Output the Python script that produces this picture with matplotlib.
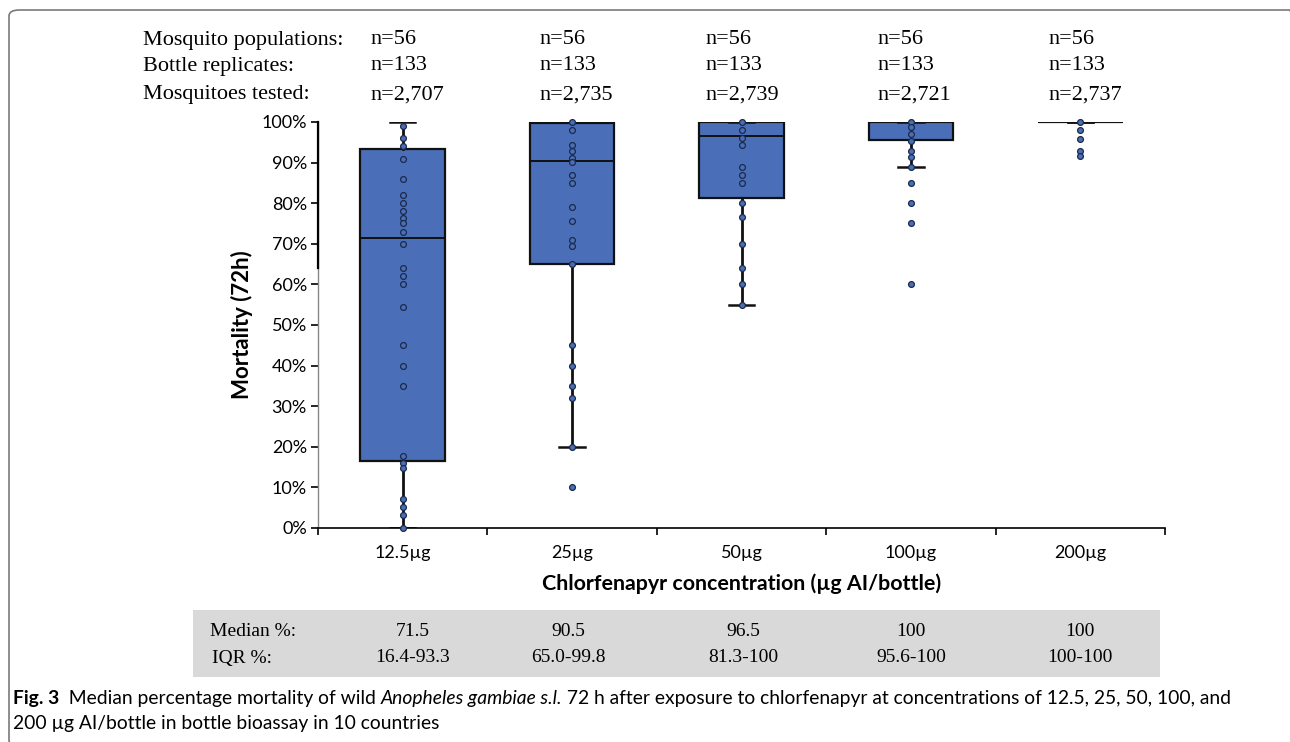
import matplotlib
matplotlib.use("Agg")
import matplotlib.pyplot as plt
import matplotlib.transforms as mtransforms
from matplotlib.patches import FancyBboxPatch, Rectangle

# ---------------- data ----------------
categories = ["12.5µg", "25µg", "50µg", "100µg", "200µg"]
medians = [71.5, 90.5, 96.5, 100, 100]
q1 = [16.4, 65.0, 81.3, 95.6, 100]
q3 = [93.3, 99.8, 100, 100, 100]
whis_lo = [0, 20, 55, 89, 100]
whis_hi = [100, 100, 100, 100, 100]

pts_125 = [99.1, 96.1, 94.1, 91.0, 86.0, 81.9, 80.0, 78.1, 76.4, 75.0, 73.0, 70.0,
           64.0, 62.1, 60.0, 54.5, 45.0, 40.0, 35.0, 17.7, 16.0, 14.7, 7.1, 5.1, 3.1, 0.0]
pts_25 = [100, 98.0, 94.4, 92.9, 91.2, 90.1, 86.9, 84.9, 79.0, 75.6, 71.0, 69.5,
          65.0, 45.0, 40.0, 35.0, 32.0, 20.0, 10.0]
pts_50 = [100, 98.0, 96.0, 94.4, 89.0, 87.0, 85.0, 80.0, 76.7, 70.0, 64.0, 60.1, 55.0]
pts_100 = [100, 98.7, 97.0, 95.4, 92.9, 91.3, 88.9, 85.0, 80.0, 75.0, 60.0]
pts_200 = [100, 98.0, 95.9, 92.9, 91.6]
points = [pts_125, pts_25, pts_50, pts_100, pts_200]

row_labels = ["Mosquito populations:", "Bottle replicates:", "Mosquitoes tested:"]
populations = ["n=56", "n=56", "n=56", "n=56", "n=56"]
replicates = ["n=133", "n=133", "n=133", "n=133", "n=133"]
tested = ["n=2,707", "n=2,735", "n=2,739", "n=2,721", "n=2,737"]

median_labels = ["71.5", "90.5", "96.5", "100", "100"]
iqr_labels = ["16.4-93.3", "65.0-99.8", "81.3-100", "95.6-100", "100-100"]

y_ticks = [0, 10, 20, 30, 40, 50, 60, 70, 80, 90, 100]

# ---------------- styling ----------------
W, H = 1290, 742
BOX_BLUE = "#4a6fb8"
DOT_EDGE = "#1c2a4a"
SANS = ["Lato", "DejaVu Sans"]
SERIF = ["Liberation Serif", "DejaVu Serif"]

fig = plt.figure(figsize=(W / 100, H / 100), dpi=100)


def fx(px):
    return px / W


def fy(py):
    return 1 - py / H


# outer rounded border
border = FancyBboxPatch((fx(9), fy(746)), fx(1300) - fx(9), fy(10) - fy(746),
                        boxstyle="round,pad=0,rounding_size=0.008",
                        transform=fig.transFigure, fill=False,
                        edgecolor="#7a7a7a", linewidth=1.2, clip_on=False, zorder=-2)
fig.patches.append(border)

ax = fig.add_axes([fx(318), fy(528), fx(1165) - fx(318), fy(122) - fy(528)])

positions = [i + 0.5 for i in range(len(categories))]
stats = []
for i in range(len(categories)):
    stats.append(dict(med=medians[i], q1=q1[i], q3=q3[i],
                      whislo=whis_lo[i], whishi=whis_hi[i], fliers=[]))

ax.bxp(stats, positions=positions, widths=0.5, patch_artist=True,
       showfliers=False, capwidths=0.15,
       boxprops=dict(facecolor=BOX_BLUE, edgecolor="#111111", linewidth=1.6),
       medianprops=dict(color="#111111", linewidth=1.4),
       whiskerprops=dict(color="#111111", linewidth=2.0),
       capprops=dict(color="#111111", linewidth=1.8),
       zorder=2)

for pos, vals in zip(positions, points):
    ax.plot([pos] * len(vals), vals, linestyle="none", marker="o",
            markersize=4.2, markerfacecolor=BOX_BLUE, markeredgecolor=DOT_EDGE,
            markeredgewidth=0.9, zorder=4, clip_on=False)

ax.set_xlim(0, 5)
ax.set_ylim(0, 100)
ax.set_yticks(y_ticks)
ax.set_yticklabels([f"{v}%" for v in y_ticks], fontsize=13, family=SANS)
ax.set_xticks(positions)
ax.set_xticklabels(categories, fontsize=13, family=SANS)
ax.set_xticks(range(0, 6), minor=True)
ax.tick_params(axis="x", which="major", length=0, pad=12)
ax.tick_params(axis="x", which="minor", length=5, width=1.2, direction="out")
ax.tick_params(axis="y", length=5, width=1.2, direction="out", pad=3)

for s in ["top", "right"]:
    ax.spines[s].set_visible(False)
ax.spines["bottom"].set_linewidth(1.2)
ax.spines["left"].set_linewidth(1.0)
ax.spines["left"].set_color("#888888")
ax.plot([0, 0], [64, 100], color="black", linewidth=1.6, clip_on=False, zorder=3)

ax.set_ylabel("Mortality (72h)", fontsize=16, fontweight="bold", family=SANS, labelpad=6)
ax.set_xlabel("Chlorfenapyr concentration (µg AI/bottle)", fontsize=15.4,
              fontweight="bold", family=SANS, labelpad=9)

# ---------------- header rows ----------------
HDR = 16
header_y = [40, 66, 95]
header_cols = [0.31, 1.31, 2.29, 3.30, 4.31]
trans_hdr = mtransforms.blended_transform_factory(ax.transData, fig.transFigure)
for r, (lab, vals) in enumerate(zip(row_labels, [populations, replicates, tested])):
    fig.text(fx(143), fy(header_y[r]), lab, fontsize=HDR, family=SERIF,
             va="center", ha="left")
    for c, v in enumerate(vals):
        fig.text(header_cols[c], fy(header_y[r]), v, transform=trans_hdr,
                 fontsize=HDR, family=SERIF, va="center", ha="left")

# ---------------- bottom table ----------------
TBL = 14
tbl = Rectangle((fx(193), fy(677)), fx(1160) - fx(193), fy(610) - fy(677),
                transform=fig.transFigure, facecolor="#d9d9d9", edgecolor="none",
                zorder=-1)
fig.patches.append(tbl)
table_cols = [0.56, 1.48, 2.51, 3.50, 4.50]
fig.text(fx(210), fy(631), "Median %:", fontsize=TBL, family=SERIF, va="center", ha="left")
fig.text(fx(212), fy(658), "IQR %:", fontsize=TBL, family=SERIF, va="center", ha="left")
for c in range(len(categories)):
    fig.text(table_cols[c], fy(631), median_labels[c], transform=trans_hdr,
             fontsize=TBL, family=SERIF, va="center", ha="center")
    fig.text(table_cols[c], fy(658), iqr_labels[c], transform=trans_hdr,
             fontsize=TBL, family=SERIF, va="center", ha="center")

# ---------------- caption ----------------
CAP = 13.9


def chain(parts, x, y):
    first_s, first_kw = parts[0]
    prev = fig.text(x, y, first_s, fontsize=CAP, family=SANS, va="baseline",
                    ha="left", **first_kw)
    for s, kw in parts[1:]:
        prev = ax.annotate(s, xy=(1, 0), xycoords=prev, va="bottom", ha="left",
                           fontsize=CAP, family=SANS, annotation_clip=False, **kw)
    return prev


chain([("Fig. 3", dict(fontweight="bold")),
       ("  Median percentage mortality of wild ", {}),
       ("Anopheles gambiae s.l.", dict(style="italic")),
       (" 72 h after exposure to chlorfenapyr at concentrations of 12.5, 25, 50, 100, and", {})],
      fx(13), fy(704))
fig.text(fx(13), fy(729), "200 µg AI/bottle in bottle bioassay in 10 countries",
         fontsize=CAP, family=SANS, va="baseline", ha="left")

fig.savefig("out.png", dpi=100)
